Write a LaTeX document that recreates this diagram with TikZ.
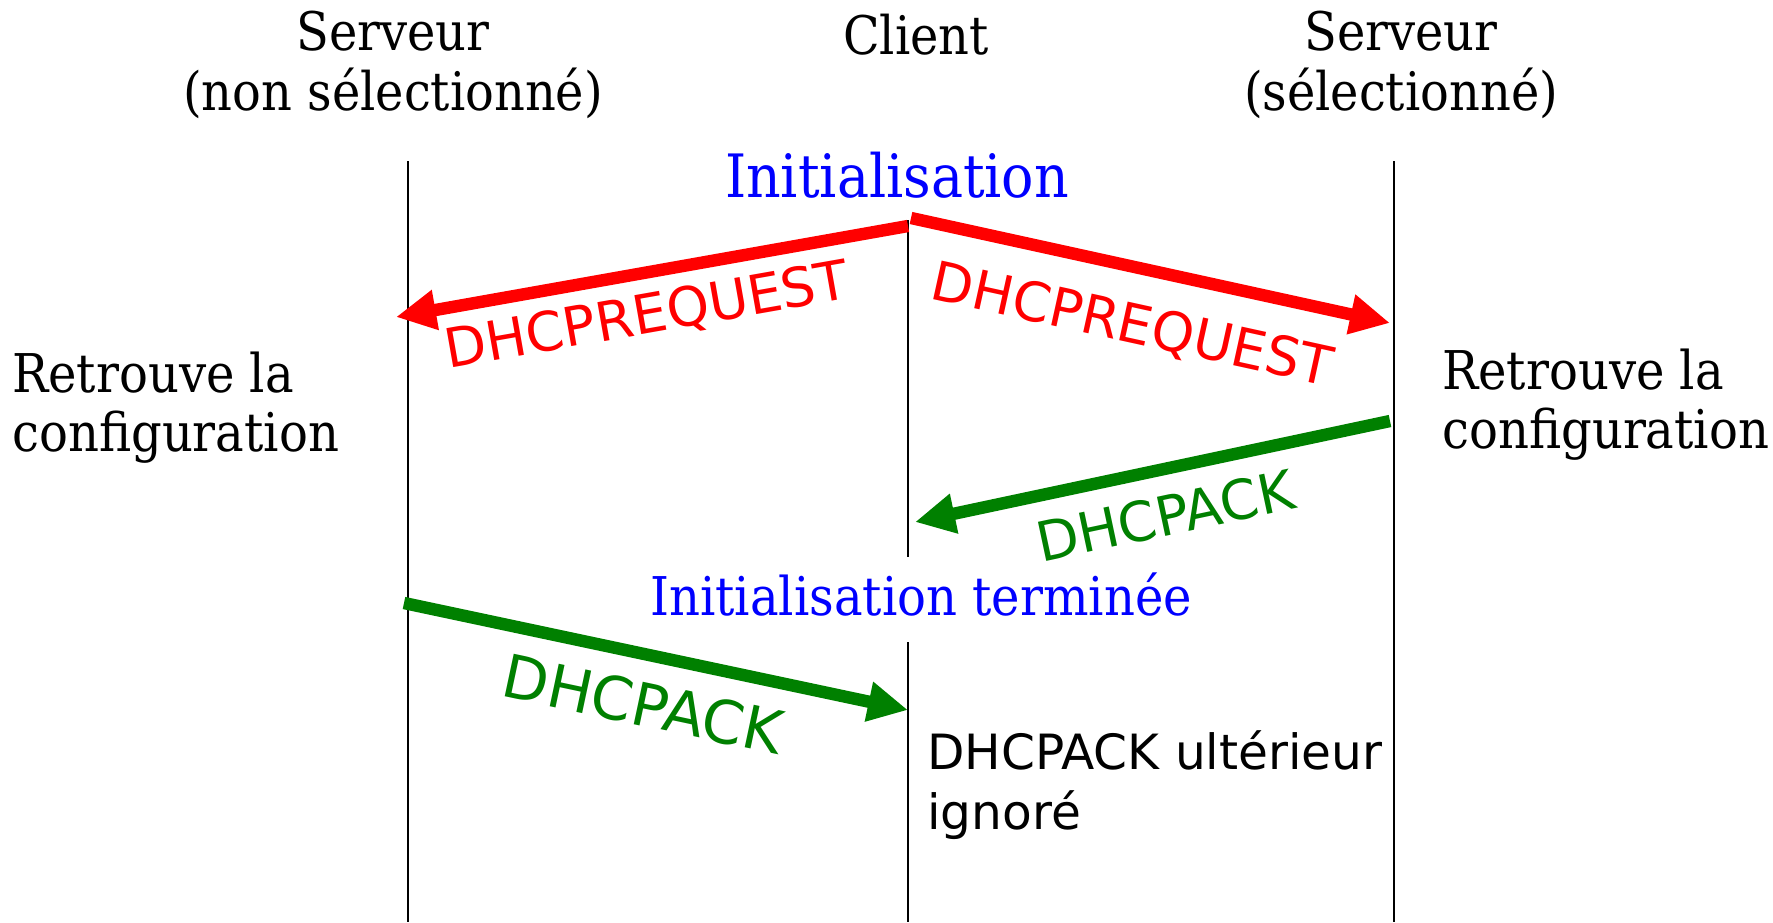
\documentclass[tikz,border=0pt]{standalone}
\usepackage{fontspec}
\setmainfont{DejaVu Serif Condensed}
\setsansfont{DejaVu Sans}
\usepackage{tikz}
\usetikzlibrary{arrows.meta}
\usetikzlibrary{positioning}

\definecolor{vertack}{RGB}{0,128,0}

\begin{document}
\begin{tikzpicture}[
        x=0.5pt, y=-0.5pt,
        vie/.style={draw=black, line width=0.8pt},
        msg/.style={line width=6.2pt, -{Triangle[length=20pt, width=19pt]}},
        titre/.style={align=center, font=\fontsize{26.6}{30}\selectfont},
        note/.style={align=left, anchor=west, inner sep=0pt, font=\fontsize{26.7}{29.5}\selectfont},
        etiq/.style={font=\sffamily\fontsize{27.1}{30}\selectfont},
        etat/.style={text=blue}
    ]
        \useasboundingbox (0,0) rectangle (1773,922);

        % 表头
        \node[titre] (srvA) at (393,65) {Serveur\\(non sélectionné)};
        \node[titre] (cli) at (916,35) {Client};
        \node[titre] (srvB) at (1401,65) {Serveur\\(sélectionné)};

        % 生命线:名称/x/上/下
        \foreach \nom/\x/\haut/\bas in {A/408/161/922, B/1394/161/922, C1/908/220/557, C2/908/642/922} {
            \coordinate (\nom-haut) at (\x,\haut);
            \coordinate (\nom-bas) at (\x,\bas);
            \draw[vie] (\nom-haut) -- (\nom-bas);
        }

        % 状态
        \node[etat, font=\fontsize{29.9}{32}\selectfont] (init) at (897,175) {Initialisation};
        \node[etat, font=\fontsize{26.7}{30}\selectfont] (fin) at (921,595) {Initialisation terminée};

        % 消息端点
        \coordinate (reqA-dep) at (908,226);
        \coordinate (reqA-arr) at (396,317);
        \coordinate (reqB-dep) at (911,218);
        \coordinate (reqB-arr) at (1390,323);
        \coordinate (ackB-dep) at (1390,421);
        \coordinate (ackB-arr) at (915,522);
        \coordinate (ackA-dep) at (404,603);
        \coordinate (ackA-arr) at (908,710);

        % DHCPREQUEST
        \draw[msg, red] (reqA-dep) -- (reqA-arr);
        \draw[msg, red] (reqB-dep) -- (reqB-arr);
        \node[etiq, red, rotate=10] (lreqA) at (647,317) {DHCPREQUEST};
        \node[etiq, red, rotate=-12.4] (lreqB) at (1132,326) {DHCPREQUEST};

        % DHCPACK
        \draw[msg, vertack] (ackB-dep) -- (ackB-arr);
        \draw[msg, vertack] (ackA-dep) -- (ackA-arr);
        \node[etiq, vertack, rotate=12, font=\sffamily\fontsize{27.4}{30}\selectfont] (lackB) at (1165,516) {DHCPACK};
        \node[etiq, vertack, rotate=-12, font=\sffamily\fontsize{29.8}{30}\selectfont] (lackA) at (643,704) {DHCPACK};

        % 说明
        \node[note] (cfgA) at (12,408) {Retrouve la\\configuration};
        \node[note] (cfgB) at (1442,405) {Retrouve la\\configuration};
        \node[note, font=\sffamily\fontsize{24.3}{30}\selectfont] (ign) at (927,785) {DHCPACK ultérieur\\ignoré};

    \end{tikzpicture}
\end{document}
